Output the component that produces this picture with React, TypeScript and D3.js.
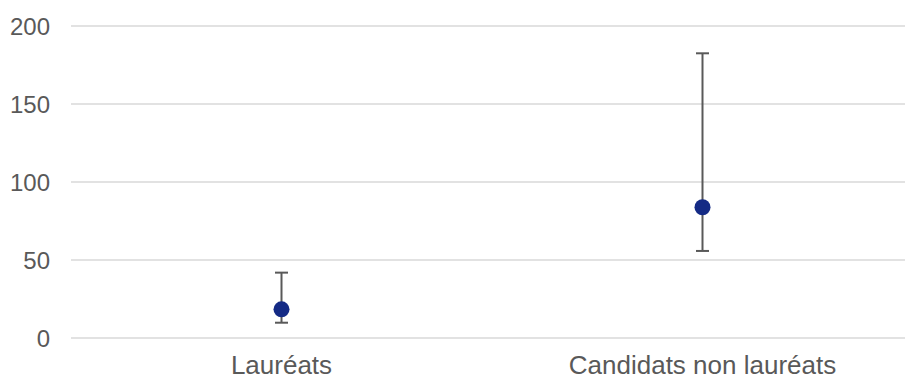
import React from "react";
import * as d3 from "d3";

const categories = ["Lauréats", "Candidats non lauréats"];
const meanValues = [18.4, 83.8];
const lowValues = [9.8, 55.8];
const highValues = [41.9, 182.5];
const yTicks = [0, 50, 100, 150, 200];

export default function App() {
  const W = 905, H = 380;
  const x = d3.scaleBand<string>().domain(categories).range([71, 913]);
  const y = d3.scaleLinear().domain([0, 200]).range([338, 26]);
  const font = "'Liberation Sans', Arial, sans-serif";
  const cx = (c: string) => (x(c) as number) + x.bandwidth() / 2;
  return (
    <svg width={W} height={H} style={{ position: "absolute", left: 0, top: 0, background: "#fff" }}>
      {yTicks.map((t) => (
        <g key={t}>
          <line x1={71} x2={W} y1={y(t)} y2={y(t)} stroke="#d9d9d9" strokeWidth={1.3} />
          <text x={50} y={y(t) + 9} textAnchor="end" fontFamily={font} fontSize={24} fill="#595959">
            {t}
          </text>
        </g>
      ))}
      {categories.map((c, i) => (
        <g key={c}>
          <line x1={cx(c)} x2={cx(c)} y1={y(highValues[i])} y2={y(lowValues[i])} stroke="#595959" strokeWidth={2} />
          <line x1={cx(c) - 6.5} x2={cx(c) + 6.5} y1={y(highValues[i])} y2={y(highValues[i])} stroke="#595959" strokeWidth={2} />
          <line x1={cx(c) - 6.5} x2={cx(c) + 6.5} y1={y(lowValues[i])} y2={y(lowValues[i])} stroke="#595959" strokeWidth={2} />
          <circle cx={cx(c)} cy={y(meanValues[i])} r={8} fill="#142a85" />
          <text x={cx(c)} y={374} textAnchor="middle" fontFamily={font} fontSize={26} fill="#595959">
            {c}
          </text>
        </g>
      ))}
    </svg>
  );
}
